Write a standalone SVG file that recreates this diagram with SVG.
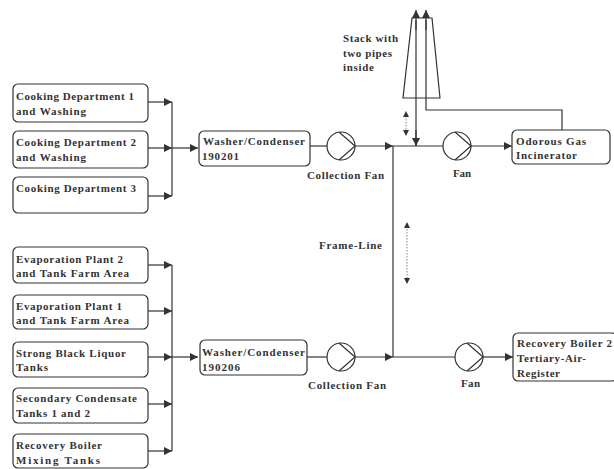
<svg xmlns="http://www.w3.org/2000/svg" width="614" height="469" viewBox="0 0 614 469">
<defs>
<marker id="ah" viewBox="0 0 10 10" refX="10" refY="5" markerWidth="8" markerHeight="8" markerUnits="userSpaceOnUse" orient="auto">
<path d="M0,0 L10,5 L0,10 z" fill="#333"/>
</marker>
</defs>
<style>
.box{fill:#fff;stroke:#333;stroke-width:1.2}
.ln{fill:none;stroke:#333;stroke-width:1.2}
.dot{fill:none;stroke:#666;stroke-width:0.8;stroke-dasharray:1.5 1.5}
text{font-family:"Liberation Serif","Times New Roman",serif;font-size:11px;fill:#333;font-weight:bold}
.tri{fill:#333}
</style>
<rect width="614" height="469" fill="#fff"/>
<g id="connectors">
<path class="ln" d="M148,102 H172" marker-end="url(#ah)"/>
<path class="ln" d="M148,148 H172" marker-end="url(#ah)"/>
<path class="ln" d="M148,196 H172" marker-end="url(#ah)"/>
<path class="ln" d="M172,102 V196"/>
<path class="ln" d="M172,148 H198" marker-end="url(#ah)"/>
<path class="ln" d="M310,146 H327"/>
<path class="ln" d="M355,146 H393" marker-end="url(#ah)"/>
<path class="ln" d="M393,146 H443"/>
<path class="ln" d="M471,146 H512" marker-end="url(#ah)"/>
<path class="ln" d="M393,146 V357"/>
<path class="ln" d="M416,20 V146"/>
<path class="ln" d="M416,30 V10" marker-end="url(#ah)"/>
<path class="ln" d="M416,130 V146" marker-end="url(#ah)"/>
<path class="ln" d="M426,30 V10" marker-end="url(#ah)"/>
<path class="ln" d="M426,20 V110 H562 V130"/>
<path class="ln" d="M148,265 H172" marker-end="url(#ah)"/>
<path class="ln" d="M148,311 H172" marker-end="url(#ah)"/>
<path class="ln" d="M148,357 H172" marker-end="url(#ah)"/>
<path class="ln" d="M148,404 H172" marker-end="url(#ah)"/>
<path class="ln" d="M148,451 H172" marker-end="url(#ah)"/>
<path class="ln" d="M172,265 V451"/>
<path class="ln" d="M172,357 H198" marker-end="url(#ah)"/>
<path class="ln" d="M307,357 H327"/>
<path class="ln" d="M355,357 H393" marker-end="url(#ah)"/>
<path class="ln" d="M393,357 H455"/>
<path class="ln" d="M483,357 H513" marker-end="url(#ah)"/>
<path class="dot" d="M406,116 V131"/>
<path class="tri" d="M403,117 L406,111 L409,117 z"/>
<path class="tri" d="M403,130 L406,136 L409,130 z"/>
<path class="dot" d="M407,226 V279"/>
<path class="tri" d="M404,228 L407,222 L410,228 z"/>
<path class="tri" d="M404,278 L407,284 L410,278 z"/>
</g>
<g id="stack">
<path class="ln" d="M412,18 H432 L440,98 H403 Z"/>
<text x="343" y="42" textLength="55">Stack with</text>
<text x="343" y="57" textLength="49">two pipes</text>
<text x="343" y="71" textLength="31">inside</text>
</g>
<g id="cook1"><rect class="box" x="13" y="84" width="135" height="38" rx="5"/><text x="16" y="100" textLength="118">Cooking Department 1</text><text x="16" y="115" textLength="70">and Washing</text></g>
<g id="cook2"><rect class="box" x="13" y="131" width="135" height="37" rx="5"/><text x="16" y="146" textLength="120">Cooking Department 2</text><text x="16" y="161" textLength="70">and Washing</text></g>
<g id="cook3"><rect class="box" x="13" y="177" width="135" height="36" rx="5"/><text x="16" y="192" textLength="120">Cooking Department 3</text></g>
<g id="washer1"><rect class="box" x="199" y="131" width="111" height="35" rx="5"/><text x="203" y="145" textLength="102">Washer/Condenser</text><text x="202" y="160" textLength="37">190201</text></g>
<g id="cfan1"><circle class="ln" cx="341" cy="146" r="14"/><path class="ln" d="M339,132 L355,146 L339,160"/><text x="307" y="179" textLength="77">Collection Fan</text></g>
<g id="fan1"><circle class="ln" cx="457" cy="146" r="14"/><path class="ln" d="M455,132 L471,146 L455,160"/><text x="453" y="177" textLength="18">Fan</text></g>
<g id="incinerator"><rect class="box" x="512" y="130" width="98" height="34" rx="5"/><text x="516" y="145" textLength="70">Odorous Gas</text><text x="516" y="159" textLength="61">Incinerator</text></g>
<g id="frameline"><text x="319" y="249" textLength="63">Frame-Line</text></g>
<g id="evap2"><rect class="box" x="13" y="247" width="135" height="36" rx="5"/><text x="16" y="263" textLength="107">Evaporation Plant 2</text><text x="16" y="277" textLength="113">and Tank Farm Area</text></g>
<g id="evap1"><rect class="box" x="13" y="295" width="135" height="34" rx="5"/><text x="16" y="310" textLength="106">Evaporation Plant 1</text><text x="16" y="324" textLength="113">and Tank Farm Area</text></g>
<g id="sbl"><rect class="box" x="13" y="342" width="135" height="35" rx="5"/><text x="16" y="357" textLength="110">Strong Black Liquor</text><text x="16" y="371" textLength="32">Tanks</text></g>
<g id="sec"><rect class="box" x="13" y="388" width="135" height="35" rx="5"/><text x="16" y="402" textLength="121">Secondary Condensate</text><text x="16" y="417" textLength="74">Tanks 1 and 2</text></g>
<g id="rbmix"><rect class="box" x="13" y="434" width="135" height="34" rx="5"/><text x="16" y="449" textLength="86">Recovery Boiler</text><text x="16" y="464" textLength="84">Mixing Tanks</text></g>
<g id="washer2"><rect class="box" x="200" y="340" width="107" height="35" rx="5"/><text x="202" y="356" textLength="103">Washer/Condenser</text><text x="202" y="371" textLength="38">190206</text></g>
<g id="cfan2"><circle class="ln" cx="341" cy="357" r="14"/><path class="ln" d="M339,343 L355,357 L339,371"/><text x="308" y="389" textLength="78">Collection Fan</text></g>
<g id="fan2"><circle class="ln" cx="469" cy="357" r="14"/><path class="ln" d="M467,343 L483,357 L467,371"/><text x="461" y="387" textLength="19">Fan</text></g>
<g id="rb2"><rect class="box" x="513" y="333" width="104" height="48" rx="5"/><text x="517" y="347" textLength="95">Recovery Boiler 2</text><text x="517" y="362" textLength="69">Tertiary-Air-</text><text x="517" y="377" textLength="43">Register</text></g>
</svg>
